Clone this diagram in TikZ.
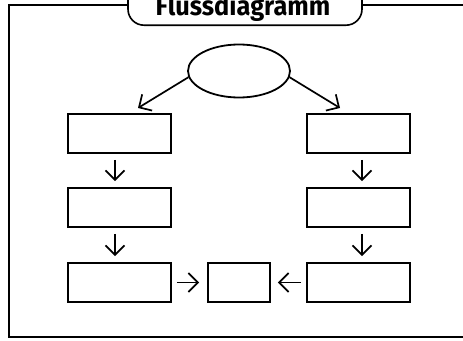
\documentclass[tikz,border=0pt]{standalone}
\usepackage{fontspec}
\setmainfont{Fira Sans}
\usetikzlibrary{shapes.geometric,arrows.meta}
\begin{document}
\begin{tikzpicture}[x=1pt,y=-1pt,
    kasten/.style={draw,line width=1.8pt,fill=white,minimum width=103pt,minimum height=39pt,inner sep=0pt},
    pfeil/.style={-{Straight Barb[length=9.5pt,width=19pt]},line width=1.7pt}]
    \useasboundingbox (0,0) rectangle (463,340);
    % frame with title
    \draw[line width=1.6pt] (9,5) rectangle (475,337);
    \node[draw,line width=1.6pt,fill=white,rounded corners=16pt,minimum width=234pt,minimum height=50pt,anchor=south] (titel) at (245,26) {};
    \node[font=\bfseries\fontsize{27}{27}\selectfont,anchor=base,inner sep=0pt] (titeltext) at (243,15) {\scalebox{0.94}[1]{Flussdiagramm}};
    % start
    \node[draw,ellipse,line width=1.8pt,minimum width=102pt,minimum height=53pt,inner sep=0pt] (start) at (239,71) {};
    % boxes
    \node[kasten] (l1) at (119.5,133.5) {};
    \node[kasten] (l2) at (119.5,207.5) {};
    \node[kasten] (l3) at (119.5,282.5) {};
    \node[kasten] (r1) at (358.5,133.5) {};
    \node[kasten] (r2) at (358.5,207.5) {};
    \node[kasten] (r3) at (358.5,282.5) {};
    \node[kasten,minimum width=62pt] (mitte) at (239,282.5) {};
    % arrows
    \coordinate (lspitze) at (138,108);
    \coordinate (rspitze) at (340,108);
    \draw[pfeil] (start.187) -- (lspitze);
    \draw[pfeil] (start.-7) -- (rspitze);
    \foreach \a/\b in {l1/l2, l2/l3}
    \draw[pfeil,shorten <=6pt,shorten >=6pt] ([xshift=-4.5pt]\a.south) -- ([xshift=-4.5pt]\b.north);
    \foreach \a/\b in {r1/r2, r2/r3}
    \draw[pfeil,shorten <=6pt,shorten >=6pt] ([xshift=3.5pt]\a.south) -- ([xshift=3.5pt]\b.north);
    \draw[pfeil,shorten <=5pt,shorten >=8pt] (l3) -- (mitte);
    \draw[pfeil,shorten <=5pt,shorten >=7pt] (r3) -- (mitte);
\end{tikzpicture}
\end{document}
